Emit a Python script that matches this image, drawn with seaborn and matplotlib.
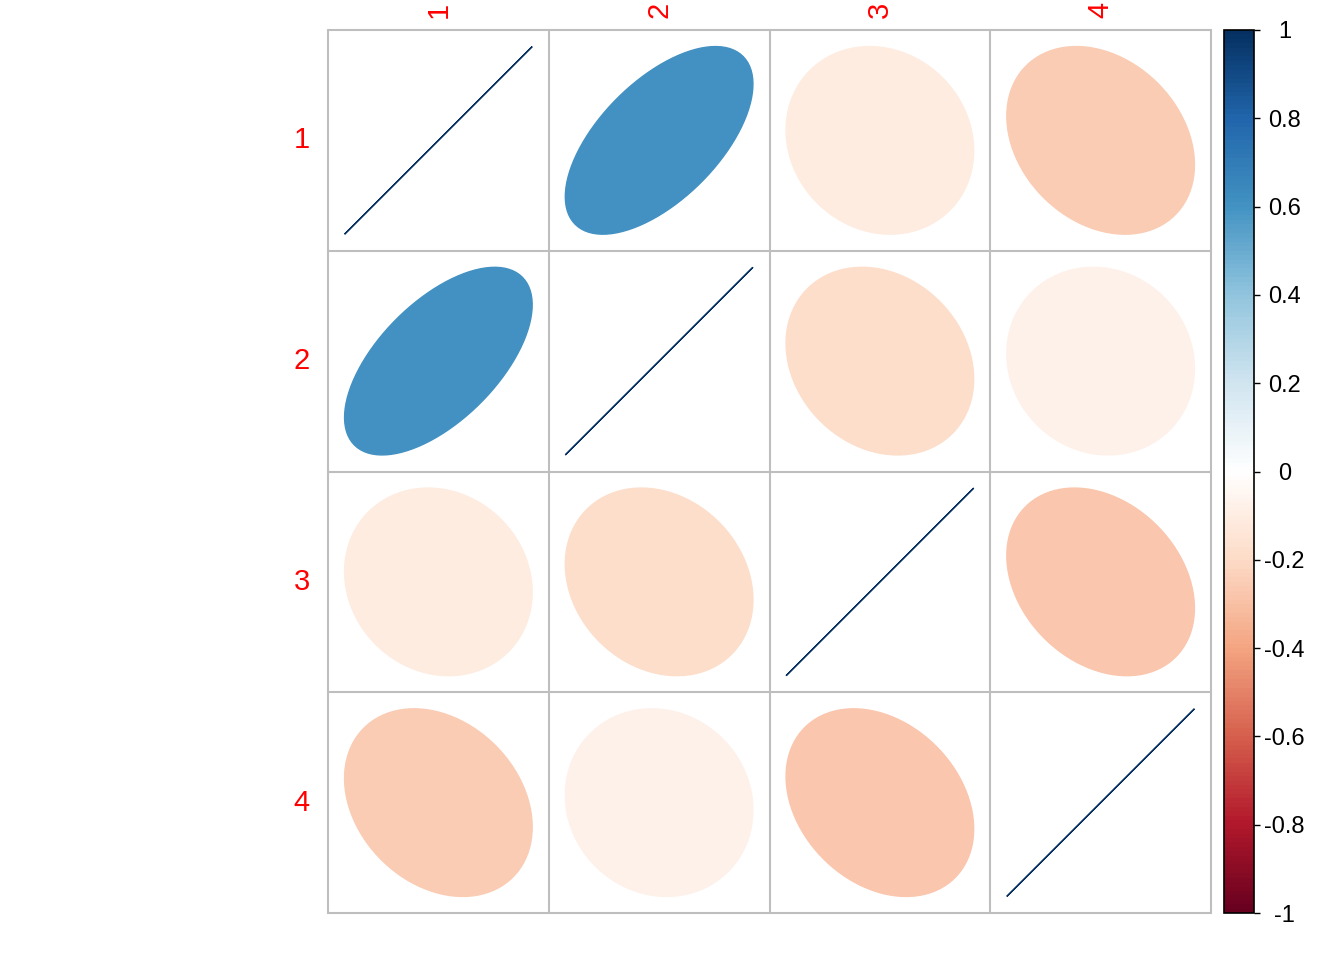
import numpy as np
import matplotlib
matplotlib.use("Agg")
import matplotlib.pyplot as plt
from matplotlib.colors import LinearSegmentedColormap, ListedColormap, Normalize
from matplotlib.patches import Polygon
import seaborn as sns

# ---- data ----
labels = ["1", "2", "3", "4"]
corr_row1 = [1.00, 0.60, -0.11, -0.26]
corr_row2 = [0.60, 1.00, -0.19, -0.08]
corr_row3 = [-0.11, -0.19, 1.00, -0.28]
corr_row4 = [-0.26, -0.08, -0.28, 1.00]
legend_ticks = [-1, -0.8, -0.6, -0.4, -0.2, 0, 0.2, 0.4, 0.6, 0.8, 1]
legend_labels = ["-1", "-0.8", "-0.6", "-0.4", "-0.2", "0", "0.2", "0.4", "0.6", "0.8", "1"]

corr = np.array([corr_row1, corr_row2, corr_row3, corr_row4])
n = len(labels)

sns.set_style("white")
plt.rcParams["font.family"] = ["Liberation Sans", "DejaVu Sans"]
plt.rcParams["text.color"] = "black"
plt.rcParams["ytick.color"] = "black"
plt.rcParams["xtick.color"] = "black"

rdbu = ["#67001F", "#B2182B", "#D6604D", "#F4A582", "#FDDBC7", "#FFFFFF",
        "#D1E5F0", "#92C5DE", "#4393C3", "#2166AC", "#053061"]
cmap = LinearSegmentedColormap.from_list("corrRdBu", rdbu, N=200)
norm = Normalize(vmin=-1, vmax=1)

W, H = 1344, 960
fig = plt.figure(figsize=(W / 100, H / 100), dpi=100)
ax = fig.add_axes([328 / W, (H - 913) / H, 883 / W, 883 / H])

sns.heatmap(np.zeros((n, n)), cmap=ListedColormap(["white"]), cbar=False, ax=ax,
            xticklabels=labels, yticklabels=labels, square=False)

# grid lines
for k in range(n + 1):
    ax.axhline(k, color="#BEBEBE", lw=1.5, clip_on=False, zorder=1)
    ax.axvline(k, color="#BEBEBE", lw=1.5, clip_on=False, zorder=1)

# ellipses
t = np.linspace(0, 2 * np.pi, 99)
for i in range(n):
    for j in range(n):
        r = corr[i, j]
        d = np.arccos(np.clip(r, -1, 1))
        ex = 0.85 * np.cos(t + d / 2) / 2
        ey = 0.85 * np.cos(t - d / 2) / 2
        col = cmap(norm(r))
        pts = np.column_stack([j + 0.5 + ex, i + 0.5 - ey])
        poly = Polygon(pts, closed=True, facecolor=col, edgecolor=col,
                       lw=1.0, zorder=2)
        ax.add_patch(poly)

ax.set_xlim(0, n)
ax.set_ylim(n, 0)
for s in ax.spines.values():
    s.set_visible(False)

ax.xaxis.tick_top()
ax.tick_params(axis="both", length=0)
ax.tick_params(axis="x", pad=9)
ax.tick_params(axis="y", pad=13)
for tl in ax.get_xticklabels():
    tl.set_rotation(90)
    tl.set_color("red")
    tl.set_fontsize(21)
    tl.set_va("bottom")
for tl in ax.get_yticklabels():
    tl.set_rotation(0)
    tl.set_color("red")
    tl.set_fontsize(21)

# colour legend
cax = fig.add_axes([1224 / W, (H - 913) / H, 30 / W, 883 / H])
sm = plt.cm.ScalarMappable(cmap=cmap, norm=norm)
cb = fig.colorbar(sm, cax=cax)
cb.outline.set_edgecolor("black")
cb.outline.set_linewidth(1.2)
cb.set_ticks(legend_ticks)
cb.set_ticklabels(legend_labels)
cax.tick_params(axis="y", length=4, width=1, color="black", pad=18,
                labelsize=17, labelcolor="black")
for tl in cax.get_yticklabels():
    tl.set_ha("center")

fig.savefig("out.png", dpi=100, facecolor="white")
